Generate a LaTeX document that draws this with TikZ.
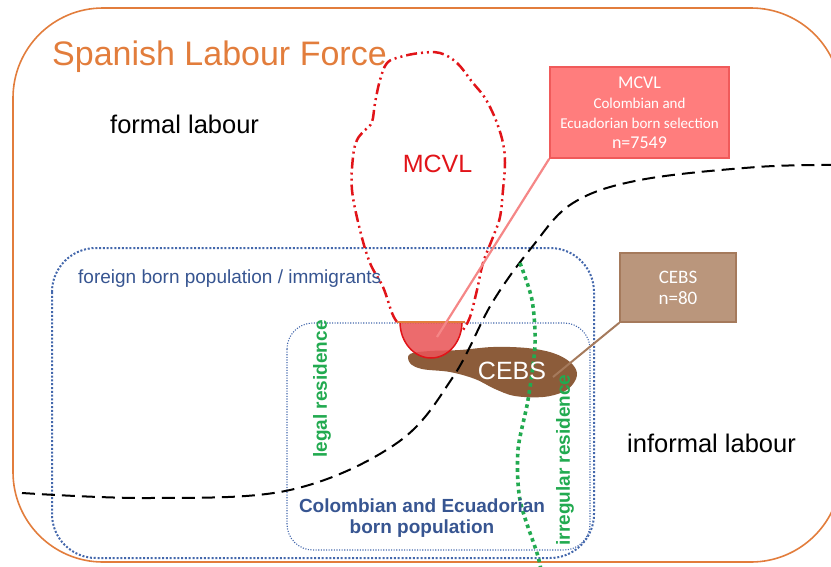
\documentclass[tikz,border=0pt]{standalone}
\usepackage{fontspec}
\setmainfont{Liberation Sans}
\newfontfamily\boxfont{Carlito}
\definecolor{labourorange}{RGB}{226,125,60}
\definecolor{popblue}{RGB}{68,104,172}
\definecolor{popbluetext}{RGB}{55,85,145}
\definecolor{resgreen}{RGB}{34,170,80}
\definecolor{mcvlred}{RGB}{225,20,25}
\definecolor{mcvlfill}{RGB}{255,125,125}
\definecolor{mcvledge}{RGB}{240,90,90}
\definecolor{mcvllink}{RGB}{245,135,135}
\definecolor{cebsbrown}{RGB}{140,92,58}
\definecolor{cebsfill}{RGB}{186,150,124}
\definecolor{cebsedge}{RGB}{165,122,92}
\tikzset{
  frame/.style={draw=labourorange, line width=1.6pt, rounded corners=90pt},
  foreign/.style={draw=popblue, line width=2pt, dash pattern=on 2pt off 1.8pt, rounded corners=44pt},
  colecu/.style={draw=popblue, line width=1.1pt, dash pattern=on 1.1pt off 1.5pt, rounded corners=26pt},
  boundary/.style={draw=black, line width=2pt, dash pattern=on 13pt off 7pt},
  residence/.style={draw=resgreen, line width=3.6pt, dash pattern=on 3.6pt off 3.6pt},
  mcvlline/.style={draw=mcvlred, line width=2.5pt, dash pattern=on 11pt off 4pt on 2pt off 4pt on 2pt off 4pt},
  label/.style={inner sep=0pt},
  infobox/.style={text=white, align=center, line width=1.6pt, inner sep=0pt},
  restext/.style={rotate=90, text=resgreen, font=\bfseries\fontsize{19}{21}\selectfont},
}
\begin{document}
\begin{tikzpicture}[x=1pt,y=-1pt]
\useasboundingbox (0,0) rectangle (831,566);
\clip (0,0) rectangle (831,566);
\draw[frame] (13,8) rectangle (841,562);
\draw[foreign] (52,248) rectangle (594,558);
\draw[colecu] (287,323) rectangle (590,550);
% CEBS sample
\fill[cebsbrown] plot[smooth cycle, tension=0.6] coordinates {(410,354) (430,351) (460,350) (493,347) (527,348) (553,353) (570,362) (577,373) (573,384) (563,392) (543,397) (515,396) (495,389) (475,379) (450,372) (422,369) (410,363)};
\draw[boundary] plot[smooth, tension=0.6] coordinates {(22,493) (150,498) (290,490) (397,443) (453,377) (492,303) (532,247) (573,203) (640,180) (757,167) (840,165)};
\draw[residence] plot[smooth] coordinates {(520,263) (532,300) (535,345) (528,400) (518,450) (520,500) (537,553) (541,570)};
% MCVL sample
\draw[mcvlline] plot[smooth, tension=0.6] coordinates {(397,322) (392,313) (383,287) (370,263) (360,230) (352,190) (353,157) (357,140) (365,130) (372,122) (375,103) (380,80) (387,63) (400,57) (420,53) (440,53) (457,63) (473,83) (483,95) (490,107) (497,123) (503,143) (505,163) (503,190) (500,217) (493,237) (483,263) (477,290) (470,317) (463,330)};
\filldraw[draw=mcvlred, fill=mcvlred!72!white, fill opacity=0.88, line width=1.5pt] (400,322) arc[start angle=180, end angle=0, x radius=31, y radius=36] -- cycle;
\draw[labourorange, line width=1.5pt] (397,322) -- (465,322);
\node[label, anchor=base west, text=labourorange, font=\fontsize{34}{36}\selectfont] (title) at (52,65) {Spanish Labour Force};
\node[label, anchor=base west, font=\fontsize{25.5}{28}\selectfont] (formal) at (110,133) {formal labour};
\node[label, anchor=base west, font=\fontsize{25.5}{28}\selectfont] (informal) at (627,452) {informal labour};
\node[label, anchor=base west, text=popbluetext, font=\fontsize{19}{22}\selectfont] (foreign) at (78,283) {foreign born population / immigrants};
\node[text=popbluetext, font=\bfseries\fontsize{19}{21}\selectfont, align=center] (colecutext) at (422,518) {Colombian and Ecuadorian\\born population};
\node[restext] (legal) at (322,389) {legal residence};
\node[restext] (irregular) at (565,460) {irregular residence};
\node[label, anchor=base, text=mcvlred, font=\fontsize{25}{28}\selectfont] (mcvltext) at (437.5,172) {MCVL};
\node[label, anchor=base, text=white, font=\fontsize{25}{28}\selectfont] (cebstext) at (512,379) {CEBS};
\node[infobox, font=\boxfont\fontsize{15}{20}\selectfont, draw=mcvledge, fill=mcvlfill, minimum width=179pt, minimum height=91pt] (mcvlbox) at (639.5,112.5)
  {\fontsize{18}{20}\selectfont MCVL\\ Colombian and\\ Ecuadorian born selection\\ \fontsize{18}{20}\selectfont n=7549};
\node[infobox, font=\boxfont\fontsize{19}{21}\selectfont, draw=cebsedge, fill=cebsfill, minimum width=116pt, minimum height=69pt] (cebsbox) at (678,287.5)
  {CEBS\\ n=80};
\coordinate (mcvlpt) at (437,337);
\coordinate (cebspt) at (553,377);
\draw[mcvllink, line width=2.2pt] (mcvlbox.south west) -- (mcvlpt);
\draw[cebsedge, line width=2pt] (cebsbox.south west) -- (cebspt);
\end{tikzpicture}
\end{document}
